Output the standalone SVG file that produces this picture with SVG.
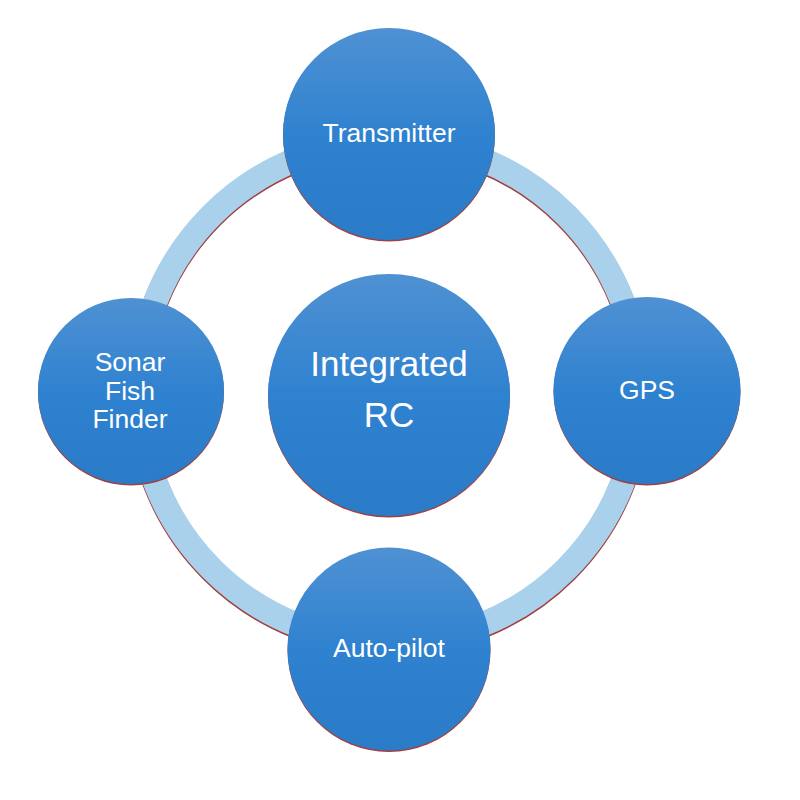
<svg xmlns="http://www.w3.org/2000/svg" width="800" height="800" viewBox="0 0 800 800">
<defs>
<linearGradient id="blue" x1="0" y1="0" x2="0" y2="1">
<stop offset="0" stop-color="#4f91d3"/>
<stop offset="0.5" stop-color="#2f82d0"/>
<stop offset="1" stop-color="#2a7bc8"/>
</linearGradient>
<style>
.node{fill:url(#blue);}
.shadow{fill:#a04040;}
.lbl{font-family:"Liberation Sans",Arial,sans-serif;fill:#ffffff;text-anchor:middle;font-size:26.5px;}
.big{font-size:35px;}
</style>
</defs>
<rect width="800" height="800" fill="#ffffff"/>
<g id="connectors">
<circle cx="389" cy="393.5" r="250.5" fill="none" stroke="#a04040" stroke-width="25"/>
<circle cx="389" cy="392" r="250.5" fill="none" stroke="#a9d1ec" stroke-width="24.5"/>
</g>
<g id="center">
<circle class="shadow" cx="389" cy="396.5" r="121"/>
<circle class="node" cx="389" cy="395" r="121"/>
<text class="lbl big" x="389" y="376">Integrated</text>
<text class="lbl big" x="389" y="427">RC</text>
</g>
<g id="transmitter">
<circle class="shadow" cx="389" cy="135.5" r="106"/>
<circle class="node" cx="389" cy="134" r="106"/>
<text class="lbl" x="389" y="142">Transmitter</text>
</g>
<g id="gps">
<circle class="shadow" cx="647" cy="392" r="93.5"/>
<circle class="node" cx="647" cy="390.5" r="93.5"/>
<text class="lbl" x="647" y="399">GPS</text>
</g>
<g id="autopilot">
<circle class="shadow" cx="389" cy="650.5" r="101.5"/>
<circle class="node" cx="389" cy="649" r="101.5"/>
<text class="lbl" x="389" y="657">Auto-pilot</text>
</g>
<g id="sonar">
<circle class="shadow" cx="131" cy="392.5" r="93"/>
<circle class="node" cx="131" cy="391" r="93"/>
<text class="lbl" x="130" y="371">Sonar</text>
<text class="lbl" x="130" y="399.5">Fish</text>
<text class="lbl" x="130" y="427.5">Finder</text>
</g>
</svg>
